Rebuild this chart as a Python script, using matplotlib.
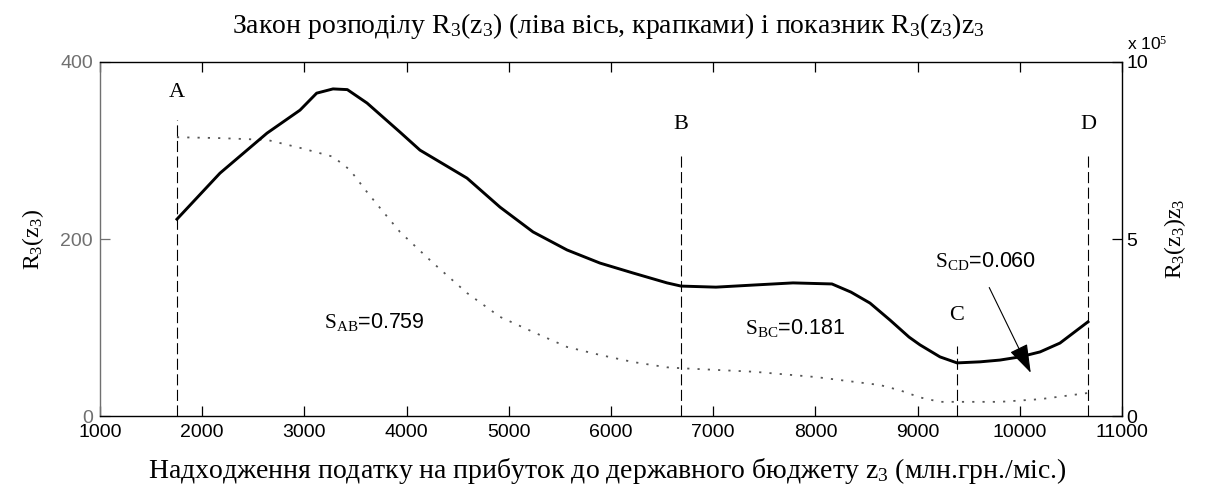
import matplotlib
matplotlib.use("Agg")
import matplotlib.pyplot as plt

# ─── Data ────────────────────────────────────────────────────────────────────
# solid curve: R3(z3)*z3, right axis, in units of 1e5
z_solid = [1753, 2174, 2634, 2957, 3120, 3280, 3420, 3613, 3935, 4131, 4591,
           4914, 5237, 5570, 5892, 6215, 6548, 6685, 7027, 7399, 7781, 8162,
           8348, 8534, 8730, 8916, 9023, 9219, 9386, 9611, 9806, 10002,
           10198, 10393, 10667]
r3z3 = [5.56, 6.86, 7.99, 8.64, 9.12, 9.24, 9.22, 8.84, 8.02, 7.51, 6.72,
        5.90, 5.20, 4.69, 4.32, 4.04, 3.76, 3.67, 3.64, 3.70, 3.76, 3.73,
        3.50, 3.19, 2.71, 2.23, 2.01, 1.67, 1.50, 1.53, 1.58, 1.67,
        1.81, 2.06, 2.66]

# dotted curve: R3(z3), left axis
z_dot = [1753, 2174, 2634, 2957, 3280, 3446, 3613, 3769, 3935, 4258, 4591,
         4914, 5237, 5570, 5892, 6215, 6548, 6685, 7399, 8006, 8632, 8828,
         9023, 9219, 9386, 9806, 10198, 10667]
r3 = [315, 314, 312, 303, 293, 278, 253, 231, 208, 173, 139,
      112, 95, 78, 69, 61, 55, 54, 50, 44, 35, 29,
      21, 16, 16, 16, 19, 26]

# boundary points A, B, C, D
pt_names = ["A", "B", "C", "D"]
pt_z = [1753, 6685, 9386, 10667]
pt_top = [334, 295, 79, 295]

# areas between points
s_labels = [r"$\mathrm{S}_{\mathrm{AB}}$=0.759",
            r"$\mathrm{S}_{\mathrm{BC}}$=0.181",
            r"$\mathrm{S}_{\mathrm{CD}}$=0.060"]

x_ticks = list(range(1000, 11001, 1000))
left_ticks = [0, 200, 400]
right_ticks = [0, 5, 10]

# ─── Style ───────────────────────────────────────────────────────────────────
SERIF = ["Liberation Serif", "DejaVu Serif"]
SANS = ["Liberation Sans", "DejaVu Sans"]
plt.rcParams.update({
    "font.family": SANS,
    "mathtext.fontset": "custom",
    "mathtext.rm": "Liberation Serif",
    "mathtext.it": "Liberation Serif:italic",
    "mathtext.bf": "Liberation Serif:bold",
})
GRAY = "#707070"

W, H = 1206, 486
fig = plt.figure(figsize=(W / 100, H / 100), dpi=100)
ax = fig.add_axes([100 / W, 1 - 416 / H, 1022 / W, 354 / H])
ax2 = ax.twinx()

# dotted distribution (left axis)
ax.plot(z_dot, r3, color="#555555", linestyle=(0, (1.2, 4.5)), linewidth=1.3)

# dashed verticals with letters
for name, z, top in zip(pt_names, pt_z, pt_top):
    ax.plot([z, z], [0, top], color="black", linestyle=(0, (10, 4)), linewidth=0.8)

label_y = [365, 329, 114, 329]
for name, z, ly in zip(pt_names, pt_z, label_y):
    ax.text(z, ly, name, family=SERIF, fontsize=16, ha="center", va="center")

# area labels
ax.text(3192, 106, s_labels[0], fontsize=15.5, ha="left", va="center")
ax.text(7311, 99, s_labels[1], fontsize=15.5, ha="left", va="center")
ax.text(9170, 175, s_labels[2], fontsize=15.5, ha="left", va="center")

# solid curve (right axis)
ax2.plot(z_solid, r3z3, color="black", linewidth=2.1)
ax2.annotate("", xy=(10119, 1.15), xytext=(9689, 3.7),
             arrowprops=dict(arrowstyle="-|>,head_length=0.9,head_width=0.3",
                             color="black", linewidth=0.8, mutation_scale=20))

# ─── Axes ────────────────────────────────────────────────────────────────────
ax.set_xlim(1000, 11000)
ax.set_ylim(0, 400)
ax2.set_ylim(0, 10)
ax.set_xticks(x_ticks)
ax.set_yticks(left_ticks)
ax2.set_yticks(right_ticks)

ax.xaxis.set_ticks_position("both")
ax.tick_params(axis="x", direction="in", length=7, width=0.9, labelsize=14,
               pad=6, colors="black")
ax.tick_params(axis="y", direction="in", length=7, width=0.9, labelsize=14,
               pad=5, colors=GRAY)
ax2.tick_params(axis="y", direction="in", length=7, width=0.9, labelsize=14,
                pad=3, colors="black")

for s in ["top", "bottom"]:
    ax.spines[s].set_color("black")
    ax2.spines[s].set_visible(False)
ax.spines["left"].set_color(GRAY)
ax2.spines["left"].set_visible(False)
ax.spines["right"].set_visible(False)
ax2.spines["right"].set_color("black")
for sp in list(ax.spines.values()) + list(ax2.spines.values()):
    sp.set_linewidth(1.0)

ax.set_ylabel(r"R$_3$(z$_3$)", family=SERIF, fontsize=17, labelpad=10)
ax2.set_ylabel(r"R$_3$(z$_3$)z$_3$", family=SERIF, fontsize=17, labelpad=10)

fig.text(608 / W, 1 - 33 / H,
         r"Закон розподілу R$_3$(z$_3$) (ліва вісь, крапками) і показник R$_3$(z$_3$)z$_3$",
         family=SERIF, fontsize=20, ha="center", va="baseline")
fig.text(607 / W, 1 - 478 / H,
         r"Надходження податку на прибуток до державного бюджету z$_3$ (млн.грн./міс.)",
         family=SERIF, fontsize=20, ha="center", va="baseline")
fig.text(1127 / W, 1 - 50 / H, r"x 10$^{5}$", fontsize=12.5, ha="left", va="baseline")

fig.savefig("out.png", dpi=100)
